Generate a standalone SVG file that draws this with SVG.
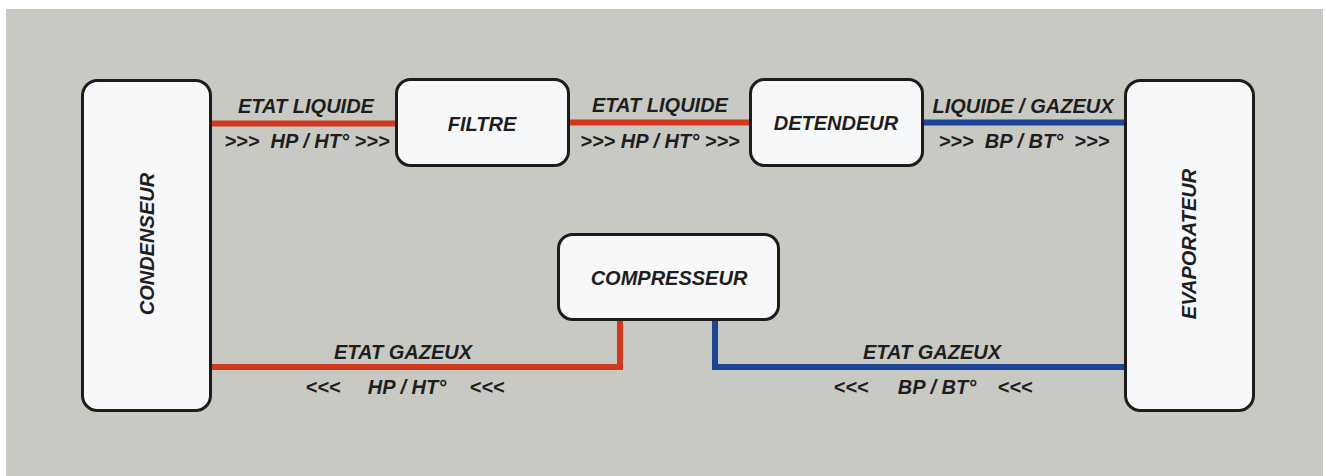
<svg xmlns="http://www.w3.org/2000/svg" width="1326" height="476" viewBox="0 0 1326 476">
  <style>
    .box { fill: #f7f8fa; stroke: #1c1c1c; stroke-width: 3; }
    .lbl { font-family: "Liberation Sans", Arial, sans-serif; font-size: 20px; font-weight: bold; font-style: italic; fill: #1e1e1e; text-anchor: middle; }
    .hot { fill: none; stroke: #cf3a1f; stroke-width: 6; }
    .cold { fill: none; stroke: #1d4596; stroke-width: 6; }
  </style>
  <!-- canvas -->
  <rect x="0" y="0" width="1326" height="476" fill="#ffffff"/>
  <rect x="6" y="9" width="1317" height="467" fill="#c9c9c4"/>

  <!-- refrigerant piping -->
  <g id="connectors">
    <line class="hot" x1="211" y1="123.5" x2="397" y2="123.5"/>
    <line class="hot" x1="568" y1="122.5" x2="751" y2="122.5"/>
    <line class="cold" x1="923" y1="122.5" x2="1125" y2="122.5"/>
    <polyline class="hot" points="211,367 620,367 620,319"/>
    <polyline class="cold" points="715,319 715,367 1125,367"/>

    <text class="lbl" x="306" y="113">ETAT LIQUIDE</text>
    <text class="lbl" x="307" y="148" xml:space="preserve">&gt;&gt;&gt;  HP / HT° &gt;&gt;&gt;</text>
    <text class="lbl" x="660" y="112">ETAT LIQUIDE</text>
    <text class="lbl" x="660" y="148">&gt;&gt;&gt; HP / HT° &gt;&gt;&gt;</text>
    <text class="lbl" x="1023" y="113">LIQUIDE / GAZEUX</text>
    <text class="lbl" x="1024" y="148" xml:space="preserve">&gt;&gt;&gt;  BP / BT°  &gt;&gt;&gt;</text>

    <text class="lbl" x="403" y="359">ETAT GAZEUX</text>
    <text class="lbl" y="394"><tspan x="323">&lt;&lt;&lt;</tspan><tspan x="407">HP / HT°</tspan><tspan x="487">&lt;&lt;&lt;</tspan></text>
    <text class="lbl" x="932" y="359">ETAT GAZEUX</text>
    <text class="lbl" y="394"><tspan x="851">&lt;&lt;&lt;</tspan><tspan x="937">BP / BT°</tspan><tspan x="1015">&lt;&lt;&lt;</tspan></text>
  </g>

  <g id="condenseur">
    <rect class="box" x="82.5" y="80.5" width="128" height="330" rx="15"/>
    <text class="lbl" transform="translate(154,244) rotate(-90)">CONDENSEUR</text>
  </g>

  <g id="filtre">
    <rect class="box" x="396.5" y="79.5" width="172" height="86" rx="14"/>
    <text class="lbl" x="482" y="131">FILTRE</text>
  </g>

  <g id="detendeur">
    <rect class="box" x="750.5" y="79.5" width="172" height="86" rx="14"/>
    <text class="lbl" x="836" y="130">DETENDEUR</text>
  </g>

  <g id="evaporateur">
    <rect class="box" x="1125.5" y="80.5" width="128" height="330" rx="15"/>
    <text class="lbl" transform="translate(1196,244) rotate(-90)">EVAPORATEUR</text>
  </g>

  <g id="compresseur">
    <rect class="box" x="558.5" y="234.5" width="220" height="85" rx="14"/>
    <text class="lbl" x="669" y="285">COMPRESSEUR</text>
  </g>
</svg>
